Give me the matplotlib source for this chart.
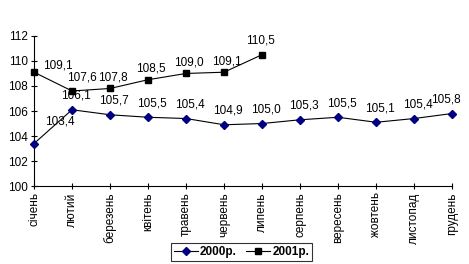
import matplotlib.pyplot as plt

plt.rcParams['font.family'] = ['Liberation Sans', 'DejaVu Sans']

months = ["січень", "лютий", "березень", "квітень", "травень", "червень",
          "липень", "серпень", "вересень", "жовтень", "листопад", "грудень"]
y2000 = [103.4, 106.1, 105.7, 105.5, 105.4, 104.9, 105.0, 105.3, 105.5, 105.1, 105.4, 105.8]
y2001 = [109.1, 107.6, 107.8, 108.5, 109.0, 109.1, 110.5]

fs = 8.5

fig = plt.figure(figsize=(4.69, 2.64), dpi=100)
ax = fig.add_axes([0.0725, 0.295, 0.8915, 0.569])

x0 = list(range(len(y2000)))
x1 = list(range(len(y2001)))
ax.plot(x0, y2000, color='black', lw=0.8, marker='D', ms=4,
        mfc='#000080', mec='#000080', label='2000р.', clip_on=False, zorder=3)
ax.plot(x1, y2001, color='black', lw=0.8, marker='s', ms=5,
        mfc='black', mec='black', label='2001р.', clip_on=False, zorder=3)

def fmt(v):
    return f"{v:.1f}".replace('.', ',')

for i, v in enumerate(y2000):
    off = (4, 8)
    if i == 0:
        off = (26, 16)
    elif i == len(y2000) - 1:
        off = (-6, 8)
    ax.annotate(fmt(v), (i, v), xytext=off, textcoords='offset pixels',
                ha='center', va='bottom', fontsize=fs)
for i, v in enumerate(y2001):
    off = (3, 5)
    if i == 0:
        off = (24, 1)
    elif i == 1:
        off = (10, 7)
    elif i == 6:
        off = (-2, 8)
    ax.annotate(fmt(v), (i, v), xytext=off, textcoords='offset pixels',
                ha='center', va='bottom', fontsize=fs)

ax.set_xlim(0, 11)
ax.set_ylim(100, 112)
ax.set_yticks(range(100, 113, 2))
ax.set_xticks(x0)
ax.set_xticklabels(months, rotation=90, fontsize=fs)
ax.tick_params(axis='y', labelsize=fs)
ax.tick_params(direction='inout', length=5, width=0.8, pad=2)
ax.spines['top'].set_visible(False)
ax.spines['right'].set_visible(False)
ax.spines['left'].set_linewidth(0.8)
ax.spines['bottom'].set_linewidth(0.8)

leg = fig.legend(loc='center', bbox_to_anchor=(0.515, 0.046), ncol=2,
                 frameon=True, fancybox=False, edgecolor='black',
                 prop={'weight': 'bold', 'size': fs}, handlelength=2.0,
                 handletextpad=0.2, columnspacing=0.8, borderpad=0.25)
leg.get_frame().set_linewidth(0.8)

fig.savefig("out.png", dpi=100)
